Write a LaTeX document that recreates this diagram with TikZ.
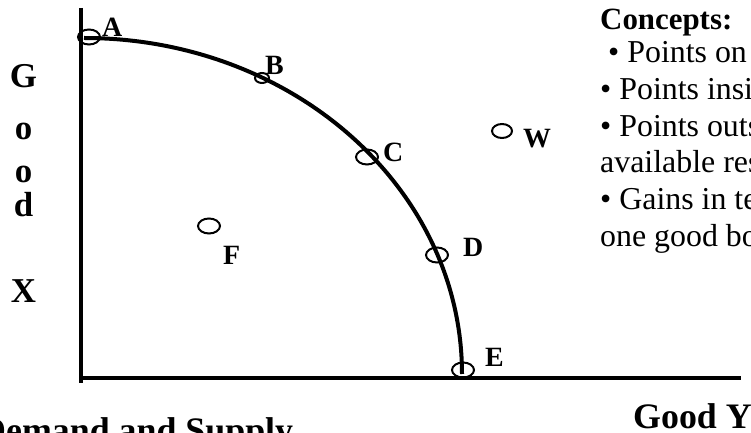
\documentclass[tikz,border=0pt]{standalone}
\usepackage{fontspec}
\setmainfont{Liberation Serif}
\usetikzlibrary{shapes.geometric}
\begin{document}
\begin{tikzpicture}[x=1bp,y=-1bp,
  pt/.style={draw,ellipse,line width=2bp,minimum width=22bp,minimum height=15bp,inner sep=0pt},
  lbl/.style={font=\bfseries\fontsize{28}{28}\selectfont,inner sep=0pt,anchor=base west},
  axlbl/.style={font=\bfseries\fontsize{35}{35}\selectfont,inner sep=0pt,anchor=base},
  big/.style={font=\bfseries\fontsize{36}{36}\selectfont,inner sep=0pt,anchor=base west},
  txt/.style={font=\fontsize{32}{36}\selectfont,inner sep=0pt,anchor=base west},
  ax/.style={line width=4.5bp},
  ppf/.style={line width=4bp}]
\useasboundingbox (0,0) rectangle (751,433);
% axes
\coordinate (ytop) at (81,8);
\coordinate (ybot) at (81,383);
\coordinate (xl) at (81,378);
\coordinate (xr) at (741,378);
\draw[ax] (ytop) -- (ybot);
\draw[ax] (xl) -- (xr);
% production possibilities curve
\coordinate (cstart) at (84,38);
\draw[ppf] (cstart) arc[start angle=-90,end angle=0,x radius=378,y radius=336];
% points
\node[pt] (pA) at (89,37) {};
\node[pt,minimum width=14bp,minimum height=10bp] (pB) at (262,78) {};
\node[pt] (pC) at (367,157) {};
\node[pt] (pD) at (437,255) {};
\node[pt] (pE) at (463,370) {};
\node[pt] (pF) at (209,226) {};
\node[pt,minimum width=20bp,minimum height=14bp] (pW) at (502,131) {};
% point labels
\node[lbl] (lA) at (102,37) {A};
\node[lbl] (lB) at (265,75) {B};
\node[lbl] (lC) at (383,162) {C};
\node[lbl] (lD) at (463,257) {D};
\node[lbl] (lE) at (485,367) {E};
\node[lbl] (lF) at (223,265) {F};
\node[lbl] (lW) at (523,148) {W};
% vertical axis label
\node[axlbl] (g1) at (23.5,88) {G};
\node[axlbl] (g2) at (23.5,140) {o};
\node[axlbl] (g3) at (23.5,183) {o};
\node[axlbl] (g4) at (23.5,217) {d};
\node[axlbl] (g5) at (23.5,303) {X};
% horizontal axis label and title
\node[big] (gy) at (633,428) {Good Y};
\node[big] (title) at (-20,442) {Demand and Supply};
% concepts
\node[txt,font=\bfseries\fontsize{31}{36}\selectfont] (c0) at (600,30) {Concepts:};
\node[txt] (c1) at (608,63) {• Points on};
\node[txt] (c2) at (600,100) {• Points insi};
\node[txt] (c3) at (600,137) {• Points outs};
\node[txt] (c4) at (600,173) {available res};
\node[txt] (c5) at (600,210) {• Gains in te};
\node[txt] (c6) at (600,247) {one good bo};
\end{tikzpicture}
\end{document}
